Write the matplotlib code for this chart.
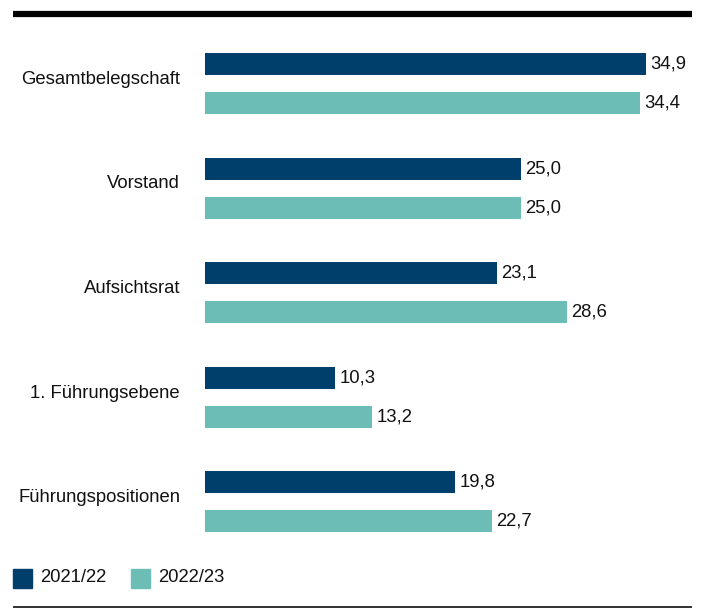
import matplotlib
matplotlib.use("Agg")
import matplotlib.pyplot as plt
from matplotlib.patches import Rectangle
from matplotlib.lines import Line2D
import matplotlib.transforms as mtransforms

categories = ["Gesamtbelegschaft", "Vorstand", "Aufsichtsrat", "1. Führungsebene", "Führungspositionen"]
series_names = ["2021/22", "2022/23"]
values_2021 = [34.9, 25.0, 23.1, 10.3, 19.8]
values_2022 = [34.4, 25.0, 28.6, 13.2, 22.7]
colors = ["#003f6b", "#6dbdb7"]

plt.rcParams['font.family'] = ['Liberation Sans', 'DejaVu Sans']
W, H = 710, 613
fig = plt.figure(figsize=(W / 100, H / 100), dpi=100)

left_px, right_px = 205, 692
ax = fig.add_axes([left_px / W, 0, (right_px - left_px) / W, 1])
xmax = (right_px - left_px) / 12.64
ax.set_xlim(0, xmax)
spacing = 104.6
top_c = 83.5
ax.set_ylim(4 + (H - (top_c + 4 * spacing)) / spacing, -top_c / spacing)
ax.axis("off")

off = 19.5 / spacing
bh = 22 / spacing
fs = 13.3
for i, cat in enumerate(categories):
    for v, d, c in ((values_2021[i], -off, colors[0]), (values_2022[i], off, colors[1])):
        ax.barh(i + d, v, height=bh, color=c)
        ax.text(v + 0.35, i + d, f"{v:.1f}".replace(".", ","), va="center", ha="left",
                fontsize=fs, color="#111111")
    trans = mtransforms.blended_transform_factory(fig.transFigure, ax.transData)
    ax.text(180 / W, i - 0.04, cat, transform=trans, ha="right", va="center",
            fontsize=fs, color="#111111")

# top thick line and bottom thin line
fig.add_artist(Line2D([13 / W, 692 / W], [1 - 14 / H, 1 - 14 / H], color="black", lw=4.5,
                      transform=fig.transFigure, solid_capstyle="butt"))
fig.add_artist(Line2D([13 / W, 692 / W], [1 - 607 / H, 1 - 607 / H], color="#222222", lw=1.3,
                      transform=fig.transFigure, solid_capstyle="butt"))

# legend
leg_y = 578
sq = 19
for x0, name, c in ((13, series_names[0], colors[0]), (131, series_names[1], colors[1])):
    fig.add_artist(Rectangle((x0 / W, 1 - (leg_y + sq / 2) / H), sq / W, sq / H,
                             color=c, transform=fig.transFigure))
    fig.text((x0 + sq + 8) / W, 1 - leg_y / H, name, ha="left", va="center",
             fontsize=fs, color="#111111")

fig.savefig("out.png", dpi=100)
